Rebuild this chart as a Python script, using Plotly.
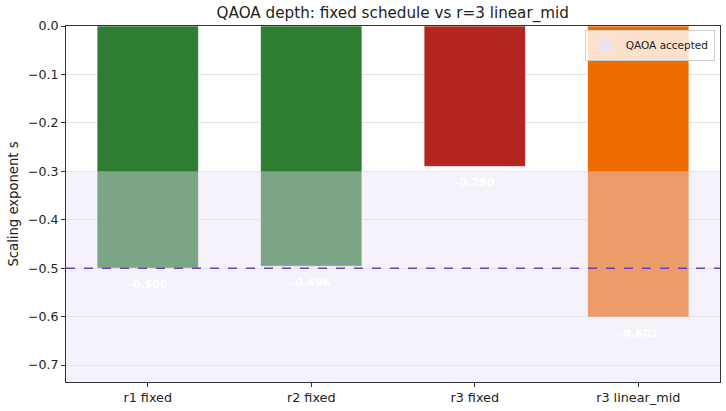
import plotly.graph_objects as go

categories = ["r1 fixed", "r2 fixed", "r3 fixed", "r3 linear_mid"]
values = [-0.500, -0.496, -0.290, -0.601]
colors = ["#2e7d32", "#2e7d32", "#b3261f", "#ef6c00"]
labels = ["-0.500", "-0.496", "-0.290", "-0.601"]
threshold_span = [-0.3, -0.735]
ref_line = -0.5
y_ticks = [0.0, -0.1, -0.2, -0.3, -0.4, -0.5, -0.6, -0.7]
y_ticktext = ["0.0", "\u22120.1", "\u22120.2", "\u22120.3", "\u22120.4", "\u22120.5", "\u22120.6", "\u22120.7"]

fig = go.Figure()
fig.add_trace(go.Bar(
    x=categories, y=values, width=0.62,
    marker=dict(color=colors, line=dict(color="rgba(255,255,255,0.6)", width=1)),
    showlegend=False,
))
fig.add_trace(go.Bar(
    x=[None], y=[None], name="QAOA accepted",
    marker=dict(color="rgba(232,226,246,0.8)"),
))

for c, v, t in zip(categories, values, labels):
    fig.add_annotation(x=c, y=v - 0.034, text="<b>" + t + "</b>", showarrow=False,
                       font=dict(color="white", size=11, family="DejaVu Sans"))

fig.add_shape(type="rect", xref="paper", x0=0, x1=1, yref="y",
              y0=threshold_span[0], y1=threshold_span[1],
              fillcolor="rgba(232,225,247,0.42)", line=dict(width=0), layer="above")
fig.add_shape(type="line", xref="paper", x0=0, x1=1, yref="y",
              y0=ref_line, y1=ref_line,
              line=dict(color="#6a3fc8", width=1.5, dash="dash"), layer="above")

fig.update_layout(
    width=726, height=411,
    margin=dict(l=66, r=6, t=26, b=29),
    plot_bgcolor="white", paper_bgcolor="white",
    font=dict(family="DejaVu Sans", size=12, color="#222"),
    title=dict(text="QAOA depth: fixed schedule vs r=3 linear_mid",
               x=0.541, xanchor="center", y=0.968, yanchor="middle",
               font=dict(size=15.2, color="#222")),
    bargap=0.38,
    legend=dict(x=0.992, y=0.99, xanchor="right", yanchor="top",
                bgcolor="rgba(255,255,255,0.8)", bordercolor="#cccccc", borderwidth=1,
                font=dict(size=10.5), itemwidth=30),
    showlegend=True,
)
fig.update_xaxes(range=[-0.5, 3.5], showline=True, linecolor="#333", mirror=True,
                 ticks="outside", ticklen=4, tickcolor="#333", showgrid=False,
                 tickfont=dict(size=12.8))
fig.update_yaxes(range=[-0.735, 0], tickvals=y_ticks, ticktext=y_ticktext,
                 showline=True, linecolor="#333", mirror=True,
                 ticks="outside", ticklen=4, tickcolor="#333",
                 showgrid=True, gridcolor="rgba(200,200,200,0.5)", gridwidth=1,
                 zeroline=False, layer="above traces",
                 title=dict(text="Scaling exponent s", font=dict(size=13.2), standoff=6),
                 tickfont=dict(size=12.6))

fig.write_html("out.html")
